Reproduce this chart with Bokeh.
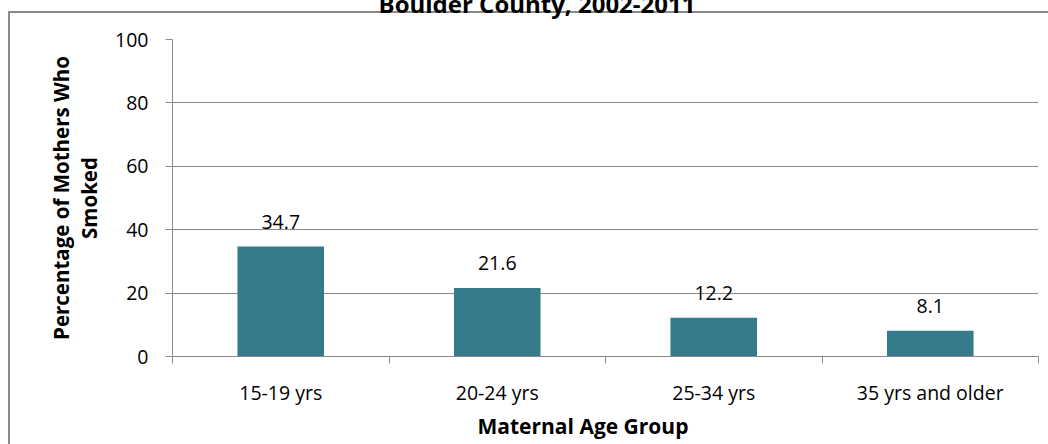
from bokeh.plotting import figure
from bokeh.models import (Range1d, FixedTicker, LabelSet, ColumnDataSource, Title)
from bokeh.core.properties import value
from bokeh.embed import file_html
from bokeh.resources import INLINE

# ---- data ----
categories = ["15-19 yrs", "20-24 yrs", "25-34 yrs", "35 yrs and older"]
values = [34.7, 21.6, 12.2, 8.1]
y_ticks = [0, 20, 40, 60, 80, 100]
title_text = "Boulder County, 2002-2011"
x_title = "Maternal Age Group"
y_title = "Percentage of Mothers Who\nSmoked"

# ---- derived ----
positions = [i + 0.5 for i in range(len(categories))]
boundaries = list(range(len(categories) + 1))
value_labels = [f"{v:.1f}" for v in values]
src = ColumnDataSource(dict(x=positions, top=values, label=value_labels))

FONT = "Open Sans"
GRAY = "#8a8a8a"
BAR = "#367b8b"
K = 40  # hidden strip above the window (title is cut off there)

p = figure(width=1048, height=444 + K,
           x_range=Range1d(0, len(categories)), y_range=Range1d(0, 100),
           output_backend="svg", toolbar_location=None,
           min_border_left=172, min_border_right=10,
           min_border_top=39 + K, min_border_bottom=88)
p.styles = {
    "margin-top": f"-{K}px",
    "background-image": f"linear-gradient({GRAY}, {GRAY}), linear-gradient({GRAY}, {GRAY})",
    "background-size": f"2px {444 + K}px, 1100px 2px",
    "background-position": f"8px {11 + K}px, 8px {11 + K}px",
    "background-repeat": "no-repeat",
}
p.outline_line_color = None
p.background_fill_color = "white"
p.border_fill_alpha = 0

p.vbar(x="x", top="top", width=0.4, bottom=0, source=src,
       fill_color=BAR, line_color=None)

p.add_layout(LabelSet(x="x", y="top", text="label", source=src,
                      text_align="center", text_baseline="alphabetic",
                      y_offset=18, text_font=value(FONT), text_font_size="19.5px",
                      text_color="black"))

# grid
p.xgrid.grid_line_color = None
p.ygrid.grid_line_color = GRAY
p.ygrid.grid_line_width = 1
p.ygrid.ticker = FixedTicker(ticks=y_ticks)

# x axis
xa = p.xaxis[0]
xa.ticker = FixedTicker(ticks=positions, minor_ticks=boundaries)
xa.major_label_overrides = {pos: c for pos, c in zip(positions, categories)}
xa.major_tick_line_color = None
xa.major_tick_out = 0
xa.major_tick_in = 0
xa.minor_tick_line_color = GRAY
xa.minor_tick_out = 7
xa.minor_tick_in = 0
xa.axis_line_color = GRAY
xa.major_label_text_font = FONT
xa.major_label_text_font_size = "19.5px"
xa.major_label_text_color = "black"
xa.major_label_standoff = 15

# y axis
ya = p.yaxis[0]
ya.ticker = FixedTicker(ticks=y_ticks)
ya.major_tick_line_color = GRAY
ya.major_tick_out = 7
ya.major_tick_in = 0
ya.minor_tick_line_color = None
ya.axis_line_color = GRAY
ya.major_label_text_font = FONT
ya.major_label_text_font_size = "19.5px"
ya.major_label_text_color = "black"
ya.major_label_standoff = 17
ya.axis_label = y_title
ya.axis_label_text_font = FONT
ya.axis_label_text_font_style = "bold"
ya.axis_label_text_font_size = "20.5px"
ya.axis_label_text_color = "black"
ya.axis_label_text_line_height = 1.0
ya.axis_label_standoff = 9

# titles
p.add_layout(Title(text=x_title, align="left", offset=305, standoff=2,
                   text_font=FONT, text_font_style="bold", text_font_size="21px",
                   text_color="black"), "below")
p.add_layout(Title(text=title_text, align="left", offset=206, standoff=39,
                   text_font=FONT, text_font_style="bold", text_font_size="24px",
                   text_color="black"), "above")

open("out.html", "w").write(file_html(p, INLINE))
